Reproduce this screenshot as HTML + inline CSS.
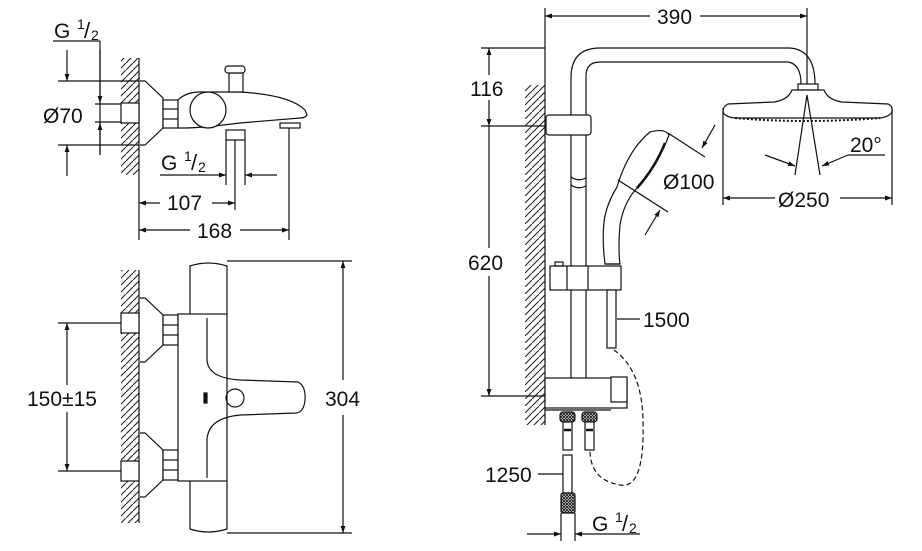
<!DOCTYPE html>
<html><head><style>
html,body{margin:0;padding:0;background:#fff}
svg{display:block}
text{font-family:"Liberation Sans",sans-serif;font-size:21px;fill:#111}
</style></head><body>
<svg width="922" height="551" viewBox="0 0 922 551" xmlns="http://www.w3.org/2000/svg">
<defs>
<pattern id="h" width="7" height="7" patternUnits="userSpaceOnUse">
<path d="M0,7 L7,0" stroke="#222" stroke-width="1.1"/>
</pattern>
<marker id="a" viewBox="0 0 10 10" refX="10" refY="5" markerWidth="9" markerHeight="7" orient="auto-start-reverse" markerUnits="userSpaceOnUse">
<path d="M0,1.5 L10,5 L0,8.5 Z" fill="#111"/>
</marker>
<pattern id="k" width="3" height="3" patternUnits="userSpaceOnUse"><rect width="3" height="3" fill="#fff"/><path d="M0,0L3,3M3,0L0,3" stroke="#111" stroke-width="0.9"/></pattern>
</defs>
<g fill="none" stroke="#111" stroke-width="1.2">
<rect x="121" y="58" width="18" height="117" fill="url(#h)" stroke="none"/>
<line x1="139" y1="58" x2="139" y2="240"/>
<rect x="121" y="103" width="18" height="20" fill="#fff"/>
<line x1="53" y1="41" x2="100" y2="41"/>
<line x1="100" y1="41" x2="100" y2="155"/>
<line x1="100" y1="50" x2="100" y2="103" marker-end="url(#a)"/>
<line x1="100" y1="155" x2="100" y2="123" marker-end="url(#a)"/>
<line x1="67" y1="50" x2="67" y2="81" marker-end="url(#a)"/>
<line x1="67" y1="176" x2="67" y2="145" marker-end="url(#a)"/>
<line x1="58" y1="81" x2="139" y2="81"/>
<line x1="58" y1="145" x2="139" y2="145"/>
<line x1="95" y1="104" x2="121" y2="104"/>
<line x1="95" y1="122" x2="121" y2="122"/>
<path d="M140,81 L145,81 L163,98 L163,128 L145,145 L140,145" fill="#fff"/>
<rect x="163" y="100" width="15" height="28" fill="#fff"/>
<line x1="163" y1="109" x2="178" y2="109"/><line x1="163" y1="119" x2="178" y2="119"/>
<path d="M178,100 Q186,92 200,92 L240,92 Q290,95 305,110 L307,115 Q305,118 300,118 L240,123 Q200,128 185,128 L178,128 Z" fill="#fff"/>
<circle cx="208" cy="110" r="18" fill="#fff"/>
<rect x="229" y="73" width="14" height="19" fill="#fff"/>
<rect x="225" y="66" width="20" height="7" rx="3" fill="#fff"/>
<rect x="226" y="130" width="19" height="10" fill="#fff"/>
<line x1="226" y1="140" x2="226" y2="185"/><line x1="235" y1="140" x2="235" y2="210"/><line x1="245" y1="140" x2="245" y2="185"/>
<rect x="280" y="123" width="20" height="5" fill="#fff"/>
<line x1="289" y1="128" x2="289" y2="240"/>
<line x1="160" y1="175" x2="226" y2="175" marker-end="url(#a)"/>
<line x1="277" y1="175" x2="245" y2="175" marker-end="url(#a)"/>
<line x1="160" y1="203" x2="139" y2="203" marker-end="url(#a)"/>
<line x1="212" y1="203" x2="235" y2="203" marker-end="url(#a)"/>
<line x1="190" y1="230" x2="139" y2="230" marker-end="url(#a)"/>
<line x1="240" y1="230" x2="289" y2="230" marker-end="url(#a)"/>
<rect x="121" y="270" width="18" height="253" fill="url(#h)" stroke="none"/>
<line x1="139" y1="270" x2="139" y2="523"/>
<rect x="121" y="313" width="18" height="20" fill="#fff"/>
<rect x="121" y="461" width="18" height="20" fill="#fff"/>
<line x1="58" y1="323" x2="121" y2="323"/>
<line x1="58" y1="471" x2="121" y2="471"/>
<line x1="67" y1="385" x2="67" y2="323" marker-end="url(#a)"/>
<line x1="67" y1="412" x2="67" y2="471" marker-end="url(#a)"/>
<path d="M140,298 L145,298 L163,315 L163,345 L145,362 L140,362" fill="#fff"/>
<path d="M140,433 L145,433 L163,450 L163,480 L145,497 L140,497" fill="#fff"/>
<rect x="163" y="315" width="15" height="30" fill="#fff"/>
<rect x="163" y="450" width="15" height="30" fill="#fff"/>
<line x1="163" y1="325" x2="178" y2="325"/><line x1="163" y1="335" x2="178" y2="335"/>
<line x1="163" y1="460" x2="178" y2="460"/><line x1="163" y1="470" x2="178" y2="470"/>
<path d="M190,314 L190,266 Q208,260 227,266 L227,314" fill="#fff"/>
<path d="M190,481 L190,529 Q208,535 227,529 L227,481" fill="#fff"/>
<rect x="178" y="314" width="49" height="167" fill="#fff"/>
<path d="M207,318 L207,360 Q208,378 240,380 L298,382 Q306,386 305,400 Q304,412 296,413 L240,415 Q208,418 207,440 L207,478"/>
<circle cx="235" cy="398" r="9"/>
<rect x="204" y="393" width="3" height="10" fill="#111"/>
<line x1="227" y1="261" x2="352" y2="261"/>
<line x1="227" y1="533" x2="352" y2="533"/>
<line x1="343" y1="380" x2="343" y2="261" marker-end="url(#a)"/>
<line x1="343" y1="415" x2="343" y2="533" marker-end="url(#a)"/>
<rect x="525" y="85" width="20" height="340" fill="url(#h)" stroke="none"/>
<line x1="545" y1="8" x2="545" y2="425"/>
<line x1="807" y1="8" x2="807" y2="90"/>
<line x1="650" y1="16" x2="545" y2="16" marker-end="url(#a)"/>
<line x1="700" y1="16" x2="807" y2="16" marker-end="url(#a)"/>
<line x1="481" y1="48" x2="545" y2="48"/>
<line x1="481" y1="126" x2="545" y2="126"/>
<line x1="481" y1="396" x2="545" y2="396"/>
<line x1="489" y1="75" x2="489" y2="48" marker-end="url(#a)"/>
<line x1="489" y1="100" x2="489" y2="126" marker-end="url(#a)"/>
<line x1="489" y1="126" x2="489" y2="248"/>
<line x1="489" y1="276" x2="489" y2="396" marker-end="url(#a)"/>
<path d="M571,378 L571,78 Q571,48 600,48 L790,48 Q815,50 815,84"/>
<path d="M586,378 L586,76 Q586,62 600,62 L788,62 Q801,64 801,84"/>
<rect x="546" y="115" width="45" height="20" rx="3" fill="#fff"/>
<path d="M571,177 Q578,182 586,178 M571,185 Q578,190 586,186"/>
<rect x="798" y="84" width="20" height="6" fill="#fff"/>
<path d="M792,90 L824,90 Q828,100 842,102 L888,104 Q893,106 892,112 Q889,117 880,118 L735,118 Q725,117 723,112 Q723,106 728,104 L774,102 Q788,100 792,90 Z" fill="#fff"/>
<path d="M735,118 Q805,124 880,118" stroke-dasharray="2 2" stroke-width="2"/>
<line x1="807" y1="95" x2="795" y2="175"/>
<line x1="807" y1="95" x2="820" y2="175"/>
<line x1="765" y1="155" x2="795" y2="166" marker-end="url(#a)"/>
<line x1="885" y1="155" x2="848" y2="155"/>
<line x1="848" y1="155" x2="822" y2="166" marker-end="url(#a)"/>
<line x1="723" y1="108" x2="723" y2="205"/>
<line x1="892" y1="108" x2="892" y2="205"/>
<line x1="775" y1="198" x2="723" y2="198" marker-end="url(#a)"/>
<line x1="840" y1="198" x2="892" y2="198" marker-end="url(#a)"/>
<path d="M605,264 Q602,240 604,222 Q606,205 617,187 Q628,150 650,132 Q665,128 669,135 Q660,160 640,185 Q624,200 620,225 Q618,250 620,264 Z" fill="#fff"/>
<path d="M665,143 Q655,168 637,188" stroke-width="2.5"/>
<line x1="668" y1="133" x2="705" y2="157"/>
<line x1="618" y1="180" x2="668" y2="212"/>
<line x1="715" y1="125" x2="702" y2="148" marker-end="url(#a)"/>
<line x1="645" y1="235" x2="660" y2="210" marker-end="url(#a)"/>
<rect x="550" y="266" width="71" height="24" fill="#fff"/>
<line x1="567" y1="266" x2="567" y2="290"/><line x1="588" y1="266" x2="588" y2="290"/>
<rect x="555" y="262" width="8" height="4"/>
<path d="M605,264 L620,264"/>
<rect x="607" y="290" width="9" height="58" fill="#fff"/>
<line x1="617" y1="319" x2="640" y2="319"/>
<path d="M614,350 Q642,370 643,420 Q645,490 620,485 Q590,480 590,450" stroke-dasharray="5 3"/>
<path d="M571,378 L571,382 Q578,385 586,382 L586,378" fill="#fff"/>
<rect x="545" y="378" width="82" height="30" fill="#fff"/>
<rect x="611" y="377" width="16" height="25" fill="#fff"/>
<line x1="545" y1="410" x2="611" y2="410"/>
<rect x="560" y="412" width="15" height="10" rx="3" fill="url(#k)"/>
<rect x="582" y="412" width="15" height="10" rx="3" fill="url(#k)"/>
<rect x="563" y="422" width="9" height="28" fill="#fff"/>
<rect x="585" y="422" width="9" height="28" fill="#fff"/>
<line x1="564" y1="430" x2="571" y2="430" stroke-width="2.5"/>
<line x1="586" y1="430" x2="593" y2="430" stroke-width="2.5"/>
<rect x="563" y="455" width="9" height="38" fill="#fff"/>
<rect x="561" y="493" width="14" height="20" rx="2" fill="url(#k)"/>
<line x1="538" y1="474" x2="563" y2="474"/>
<line x1="561" y1="513" x2="561" y2="541"/>
<line x1="575" y1="513" x2="575" y2="541"/>
<line x1="527" y1="534" x2="561" y2="534" marker-end="url(#a)"/>
<line x1="640" y1="534" x2="575" y2="534" marker-end="url(#a)"/>
</g>
<text x="54" y="38">G</text><text x="77" y="29" style="font-size:14px">1</text><text x="84" y="38" style="font-size:22px">/</text><text x="91" y="40" style="font-size:14px">2</text>
<text x="43" y="123">Ø70</text>
<text x="161" y="170">G</text><text x="184" y="161" style="font-size:14px">1</text><text x="191" y="170" style="font-size:22px">/</text><text x="198" y="172" style="font-size:14px">2</text>
<text x="167" y="210">107</text>
<text x="197" y="238">168</text>
<text x="27" y="406">150±15</text>
<text x="325" y="406">304</text>
<text x="657" y="24">390</text>
<text x="470" y="96">116</text>
<text x="468" y="270">620</text>
<text x="663" y="189">Ø100</text>
<text x="850" y="152">20°</text>
<text x="778" y="207">Ø250</text>
<text x="643" y="327">1500</text>
<text x="485" y="482">1250</text>
<text x="592" y="531">G</text><text x="615" y="522" style="font-size:14px">1</text><text x="622" y="531" style="font-size:22px">/</text><text x="629" y="533" style="font-size:14px">2</text>
</svg>
</body></html>
